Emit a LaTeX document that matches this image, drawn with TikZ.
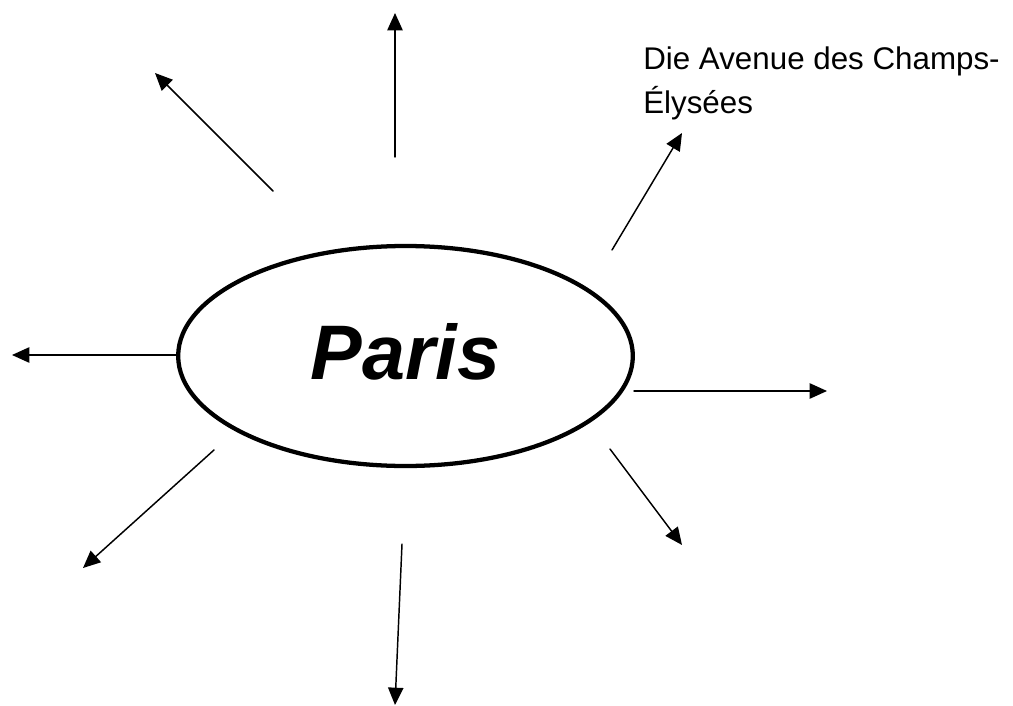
\documentclass[tikz,border=0pt]{standalone}
\usepackage{fontspec}
\setmainfont{Liberation Sans}
\usetikzlibrary{arrows.meta}
\usetikzlibrary{shapes.geometric}

\begin{document}
\begin{tikzpicture}[line cap=round,line join=round,
>={Triangle[length=13pt,width=11.5pt]},x=0.75pt,y=-0.75pt,
spoke/.style={->,line width=1.1pt},
city/.style={ellipse,draw,line width=3.2pt,inner sep=0pt,
minimum width=341pt,minimum height=165pt,text depth=7.5pt,
font=\fontsize{58}{60}\selectfont\bfseries\itshape},
place/.style={align=left,inner sep=0pt,anchor=base west,
font=\fontsize{23.5}{33}\selectfont}]
% Rahmen
\useasboundingbox (0,0) rectangle (1013,706);
% Ellipse in der Mitte
\node[city] (paris) at (405.5,356) {Paris};
% Pfeile nach aussen
\foreach \sx/\sy/\ex/\ey [count=\i] in {395/157/395/13, 273/191/155/73,
612/250/682/133, 178/355/12/355, 634/391/827/391, 610/449/682/545,
214/450/83/568, 402/544/395/705}
{
\coordinate (s\i) at (\sx,\sy);
\coordinate (e\i) at (\ex,\ey);
\draw[spoke] (s\i) -- (e\i);
}
% Beschriftung (Grundlinie der letzten Zeile)
\node[place] (champs) at (643,114) {Die Avenue des Champs-\\Élysées};
\end{tikzpicture}
\end{document}
